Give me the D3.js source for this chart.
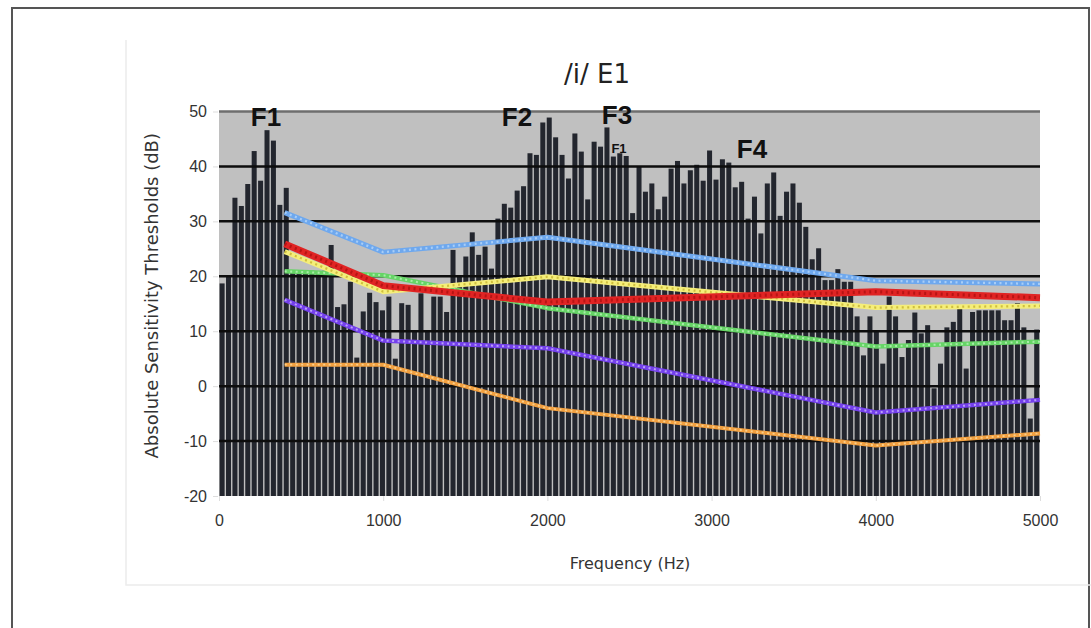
<!DOCTYPE html>
<html>
<head>
<meta charset="utf-8">
<script src="https://cdn.jsdelivr.net/npm/d3@7/dist/d3.min.js"></script>
<style>
  body { margin: 0; background: #fff; }
  svg { display: block; font-family: "DejaVu Sans", Verdana, sans-serif; }
</style>
</head>
<body>
<div id="chart"></div>
<script>
// spectrum bins, 0-5000 Hz (128 bins), dB
const spectrum = [
  18.7, 20, 34.3, 32.8, 36.8, 42.8, 37.4, 46.6, 44.7, 33.0,
  36.1, 21, 21, 21, 21, 20.5, 21, 25.7, 14.4, 14.9,
  19.0, 5.2, 13.6, 17, 15.3, 13.8, 16.3, 5, 15.1, 14.8,
  10, 16.9, 10, 16.3, 16.3, 13.5, 24.8, 20, 23.6, 28,
  23.9, 25.4, 21.4, 30.5, 33.2, 32.5, 35.6, 36.4, 42.4, 42.1,
  48.0, 48.9, 45.3, 42.1, 37.8, 46.0, 42.7, 34.0, 44.5, 43.6,
  47.1, 41.8, 42.4, 41.9, 31.5, 40, 35.4, 36.9, 32.2, 34.5,
  39.6, 41.0, 36.9, 39.3, 40.3, 37.4, 42.9, 37.6, 41.3, 40.7,
  36.2, 37.2, 30.5, 34.5, 27.8, 36.9, 38.9, 31.0, 35.4, 36.9,
  33.4, 29.0, 23.1, 25.1, 19.3, 19.3, 21.3, 19, 19, 12.7,
  5.6, 12.7, 10.2, 4.1, 16.3, 12.7, 5.3, 8.4, 13.4, 9.6,
  11.1, -0.4, 4.1, 10.7, 11.7, 14.4, 3.2, 13.5, 13.8, 13.8,
  13.8, 13.8, 12, 12, 15.1, 10.7, -5.9, 10.3
];
const maxFreq = 5000;

// threshold curves
const lineFreqs = [400, 1000, 2000, 4000, 5000];
const blueValues = [31.6, 24.4, 27.1, 19.2, 18.6];
const redValues = [25.9, 18.3, 15.3, 17.2, 16.1];
const yellowValues = [24.5, 17.2, 19.9, 14.3, 14.6];
const greenValues = [20.9, 20.2, 14.2, 7.2, 8.1];
const purpleValues = [15.7, 8.3, 6.9, -4.8, -2.5];
const orangeValues = [3.9, 3.9, -4.0, -10.8, -8.6];

const xTicks = [0, 1000, 2000, 3000, 4000, 5000];
const yTicks = [-20, -10, 0, 10, 20, 30, 40, 50];

const formants = ["F1", "F2", "F3", "F4"];
const formantFreqs = [286, 1815, 2424, 3246];
const formantDb = [47.4, 47.4, 47.8, 41.5];

const width = 1091;
const height = 628;

const svg = d3
  .select("#chart")
  .append("svg")
  .attr("width", width)
  .attr("height", height);

// outer frame + faint chart area
svg
  .append("rect")
  .attr("x", 12)
  .attr("y", 8)
  .attr("width", 1077)
  .attr("height", 640)
  .attr("fill", "#fff")
  .attr("stroke", "#555")
  .attr("stroke-width", 2);

svg
  .append("path")
  .attr("d", "M126,40V585H1091")
  .attr("fill", "none")
  .attr("stroke", "#ececec")
  .attr("stroke-width", 1.5);

const x = d3.scaleLinear().domain([0, maxFreq]).range([219, 1040]);
const y = d3.scaleLinear().domain([-20, 50]).range([496, 111.5]);

// plot background
svg
  .append("rect")
  .attr("x", x(0))
  .attr("y", y(50))
  .attr("width", x(maxFreq) - x(0))
  .attr("height", y(-20) - y(50))
  .attr("fill", "#c0c0c0");

const binWidth = maxFreq / spectrum.length;

svg
  .append("g")
  .selectAll("rect")
  .data(spectrum)
  .join("rect")
  .attr("x", (d, i) => x(i * binWidth) + 0.6)
  .attr("width", (d, i) => x((i + 1) * binWidth) - x(i * binWidth) - 1.4)
  .attr("y", (d) => y(d))
  .attr("height", (d) => y(-20) - y(d))
  .attr("fill", "#23262e");

// gridlines
svg
  .append("g")
  .selectAll("line")
  .data(yTicks.filter((d) => d > -20))
  .join("line")
  .attr("x1", x(0))
  .attr("x2", x(maxFreq))
  .attr("y1", (d) => y(d))
  .attr("y2", (d) => y(d))
  .attr("stroke", (d) => (d === 50 ? "#6e6e6e" : "#0d0d0d"))
  .attr("stroke-width", 2.5);

// axes
const yAxis = d3
  .axisLeft(y)
  .tickValues(yTicks)
  .tickFormat((d) => String(d))
  .tickSize(5)
  .tickPadding(6);

svg
  .append("g")
  .attr("transform", `translate(${x(0) - 1},0)`)
  .call(yAxis)
  .call((g) => g.select(".domain").remove())
  .call((g) => g.selectAll(".tick line").attr("stroke", "#ddd"))
  .call((g) =>
    g.selectAll("text").attr("font-size", 16).attr("fill", "#333")
  );

const xAxis = d3
  .axisBottom(x)
  .tickValues(xTicks)
  .tickFormat((d) => String(d))
  .tickSize(5)
  .tickPadding(14);

svg
  .append("g")
  .attr("transform", `translate(0,${y(-20)})`)
  .call(xAxis)
  .call((g) => g.select(".domain").remove())
  .call((g) => g.selectAll(".tick line").attr("stroke", "#ddd"))
  .call((g) =>
    g.selectAll("text").attr("font-size", 16).attr("fill", "#333")
  );

// threshold lines
const series = [
  { values: orangeValues, color: "#f2a040", mark: "#f9cf8c", w: 4 },
  { values: purpleValues, color: "#7440ec", mark: "#b9a0f8", w: 4.5 },
  { values: greenValues, color: "#66d466", mark: "#a8eca8", w: 4.5 },
  { values: yellowValues, color: "#f5ee7a", mark: "#cfbf3e", w: 5 },
  { values: redValues, color: "#e02424", mark: "#b81414", w: 7 },
  { values: blueValues, color: "#6ea8ee", mark: "#a8cdf6", w: 5 },
];

const line = d3
  .line()
  .x((d, i) => x(lineFreqs[i]))
  .y((d) => y(d));

const lines = svg.append("g").attr("fill", "none");

series.forEach((s) => {
  lines
    .append("path")
    .attr("d", line(s.values))
    .attr("stroke", s.color)
    .attr("stroke-width", s.w)
    .attr("stroke-linejoin", "round");
  lines
    .append("path")
    .attr("d", line(s.values))
    .attr("stroke", s.mark)
    .attr("stroke-width", s.w * 0.45)
    .attr("stroke-dasharray", "2,3.5");
});

// formant labels
svg
  .append("g")
  .attr("font-family", "Liberation Sans, Arial, sans-serif")
  .attr("font-weight", "bold")
  .attr("text-anchor", "middle")
  .attr("fill", "#111")
  .selectAll("text")
  .data(formants)
  .join("text")
  .attr("x", (d, i) => x(formantFreqs[i]))
  .attr("y", (d, i) => y(formantDb[i]))
  .attr("font-size", 26)
  .text((d) => d);

svg
  .append("text")
  .attr("x", x(2436))
  .attr("y", y(42.4))
  .attr("text-anchor", "middle")
  .attr("font-family", "Liberation Sans, Arial, sans-serif")
  .attr("font-weight", "bold")
  .attr("font-size", 13)
  .attr("fill", "#111")
  .text("F1");

// titles
svg
  .append("text")
  .attr("x", 597)
  .attr("y", 83)
  .attr("text-anchor", "middle")
  .attr("font-size", 26)
  .attr("fill", "#222")
  .text("/i/ E1");

svg
  .append("text")
  .attr("x", 630)
  .attr("y", 569)
  .attr("text-anchor", "middle")
  .attr("font-size", 16)
  .attr("fill", "#333")
  .text("Frequency (Hz)");

svg
  .append("text")
  .attr("transform", `translate(158,${(y(50) + y(-20)) / 2 - 8}) rotate(-90)`)
  .attr("text-anchor", "middle")
  .attr("font-size", 18)
  .attr("fill", "#333")
  .text("Absolute Sensitivity Thresholds (dB)");
</script>
</body>
</html>
